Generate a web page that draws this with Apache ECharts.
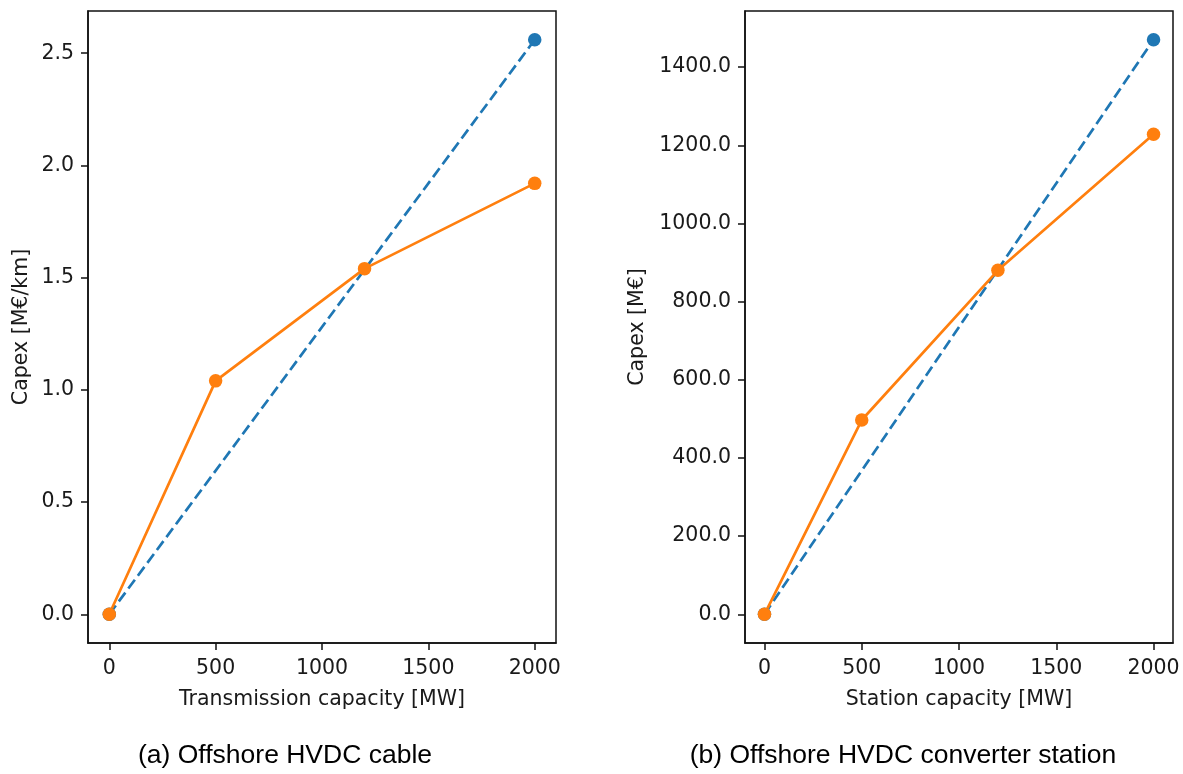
<!DOCTYPE html>
<html>
<head>
<meta charset="utf-8">
<script src="https://cdn.jsdelivr.net/npm/echarts@6/dist/echarts.min.js"></script>
<style>
html,body{margin:0;padding:0;background:#fff;}
#chart{width:1183px;height:774px;}
</style>
</head>
<body>
<div id="chart"></div>
<script>
// Data
const capacityTicks = [0, 500, 1000, 1500, 2000];
const cableLinearX = [0, 2000];
const cableLinearY = [0, 2.56];
const cablePiecewiseX = [0, 500, 1200, 2000];
const cablePiecewiseY = [0, 1.04, 1.54, 1.92];
const cableYTicks = [0, 0.5, 1.0, 1.5, 2.0, 2.5];
const stationLinearX = [0, 2000];
const stationLinearY = [0, 1470];
const stationPiecewiseX = [0, 500, 1200, 2000];
const stationPiecewiseY = [0, 497, 880, 1228];
const stationYTicks = [0, 200, 400, 600, 800, 1000, 1200, 1400];
const xNames = ['Transmission capacity [MW]', 'Station capacity [MW]'];
const yNames = ['Capex [M€/km]', 'Capex [M€]'];
const captions = ['(a) Offshore HVDC cable', '(b) Offshore HVDC converter station'];

const BLUE = '#1f77b4', ORANGE = '#ff7f0e';
const FONT = 'DejaVu Sans';
const FS = 20.5;
const TXT = '#1a1a1a';

function pairs(xs, ys){ return xs.map((x,i)=>[x, ys[i]]); }
function pad(vals){ const lo=Math.min(...vals), hi=Math.max(...vals), m=(hi-lo)*0.05; return [lo-m, hi+m]; }

const xr = pad(cablePiecewiseX.concat(cableLinearX));
const yr1 = pad(cableLinearY.concat(cablePiecewiseY));
const yr2 = pad(stationLinearY.concat(stationPiecewiseY));

function xAxis(idx, name){
  return {
    type:'value', gridIndex: idx, min: xr[0], max: xr[1], position:'bottom',
    name: name, nameLocation:'middle', nameGap: 46,
    nameTextStyle:{fontFamily:FONT, fontSize:FS, color:TXT},
    axisLine:{show:true, onZero:false, lineStyle:{color:'#111', width:1.5}},
    axisTick:{show:true, inside:false, length:7, customValues: capacityTicks, lineStyle:{color:'#111', width:1.5}},
    axisLabel:{show:true, margin:15, customValues: capacityTicks, fontFamily:FONT, fontSize:FS, color:TXT,
      formatter: v => String(Math.round(v))},
    splitLine:{show:false}
  };
}
function yAxis(idx, name, r, ticks, gap){
  return {
    type:'value', gridIndex: idx, min: r[0], max: r[1], position:'left',
    name: name, nameLocation:'middle', nameGap: gap, nameRotate: 90,
    nameTextStyle:{fontFamily:FONT, fontSize:FS, color:TXT},
    axisLine:{show:true, onZero:false, lineStyle:{color:'#111', width:1.5}},
    axisTick:{show:true, inside:false, length:7, customValues: ticks, lineStyle:{color:'#111', width:1.5}},
    axisLabel:{show:true, margin:14, customValues: ticks, fontFamily:FONT, fontSize:FS, color:TXT,
      formatter: v => Number(v).toFixed(1)},
    splitLine:{show:false}
  };
}
function lineSeries(idx, data, color, dashed){
  return {
    type:'line', xAxisIndex: idx, yAxisIndex: idx, data: data,
    symbol:'circle', symbolSize: 13.5, showSymbol: true,
    itemStyle:{color: color, borderWidth:0},
    lineStyle:{color: color, width: 2.7, type: dashed ? [11,5] : 'solid'},
    animation:false, silent:true
  };
}

const chart = echarts.init(document.getElementById('chart'), null, {renderer:'canvas'});
chart.setOption({
  backgroundColor:'#fff',
  animation:false,
  grid:[
    {left:88, top:11, width:468, height:632, show:true, borderColor:'#111', borderWidth:1.5, backgroundColor:'transparent'},
    {left:745, top:11, width:428, height:632, show:true, borderColor:'#111', borderWidth:1.5, backgroundColor:'transparent'}
  ],
  xAxis:[ xAxis(0, xNames[0]), xAxis(1, xNames[1]) ],
  yAxis:[ yAxis(0, yNames[0], yr1, cableYTicks, 56), yAxis(1, yNames[1], yr2, stationYTicks, 97) ],
  series:[
    lineSeries(0, pairs(cableLinearX, cableLinearY), BLUE, true),
    lineSeries(0, pairs(cablePiecewiseX, cablePiecewiseY), ORANGE, false),
    lineSeries(1, pairs(stationLinearX, stationLinearY), BLUE, true),
    lineSeries(1, pairs(stationPiecewiseX, stationPiecewiseY), ORANGE, false)
  ],
  graphic:[
    {type:'text', x:285, y:756, style:{text:captions[0], fontFamily:'Liberation Sans', fontSize:26.5, fill:'#000', textAlign:'center', textVerticalAlign:'middle'}},
    {type:'text', x:903, y:756, style:{text:captions[1], fontFamily:'Liberation Sans', fontSize:26.5, fill:'#000', textAlign:'center', textVerticalAlign:'middle'}}
  ]
});
</script>
</body>
</html>
